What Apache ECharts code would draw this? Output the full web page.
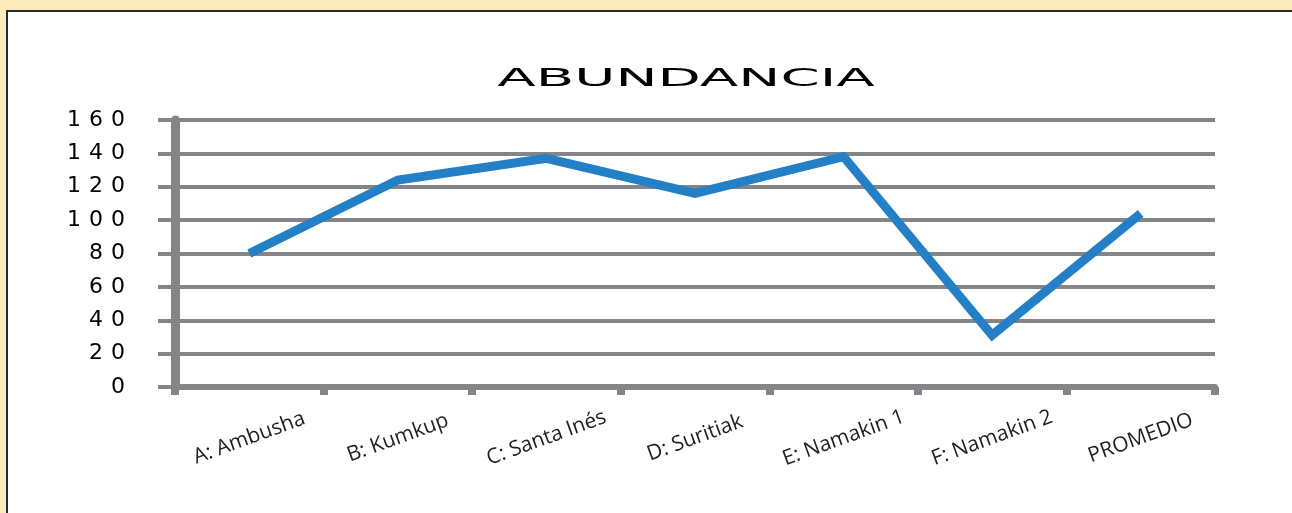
<!DOCTYPE html>
<html>
<head>
<meta charset="utf-8">
<script src="https://cdn.jsdelivr.net/npm/echarts@6/dist/echarts.min.js"></script>
<style>
  html, body { margin: 0; padding: 0; width: 1292px; height: 513px; overflow: hidden; background: #FBECBC; }
  #panel { position: absolute; left: 6px; top: 10px; right: 0; bottom: -4px; background: #ffffff;
           border-top: 2px solid #2b2b2b; border-left: 2px solid #2b2b2b; }
  #chart { position: absolute; left: 0; top: 0; width: 1292px; height: 513px; }
</style>
</head>
<body>
<div id="panel"></div>
<div id="chart"></div>
<script>
const chartTitle = 'ABUNDANCIA';
const categories = ['A: Ambusha', 'B: Kumkup', 'C: Santa Inés', 'D: Suritiak', 'E: Namakin 1', 'F: Namakin 2', 'PROMEDIO'];
const abundancia = [80, 124, 137, 116, 138, 31, 104];
const yTicks = { min: 0, max: 160, interval: 20 };

const gray = '#848589';
const chart = echarts.init(document.getElementById('chart'), null, { renderer: 'canvas' });

const option = {
  backgroundColor: 'transparent',
  animation: false,
  graphic: [{
    type: 'text',
    x: 686,
    y: 79,
    scaleX: 2.25,
    style: {
      text: chartTitle,
      font: '25px "DejaVu Sans"',
      fill: '#000000',
      align: 'center',
      verticalAlign: 'middle'
    }
  }],
  grid: { left: 175, right: 77, top: 120, bottom: 126 },
  xAxis: {
    type: 'category',
    data: categories,
    boundaryGap: true,
    axisLine: { show: true, lineStyle: { color: gray, width: 6 } },
    axisTick: { show: true, alignWithLabel: false, length: 8, lineStyle: { color: gray, width: 8 } },
    axisLabel: {
      interval: 0,
      rotate: 20,
      align: 'center',
      verticalAlign: 'middle',
      margin: 51,
      fontFamily: '"Open Sans"',
      fontSize: 21,
      color: '#1e1e1e'
    },
    splitLine: { show: false }
  },
  yAxis: {
    type: 'value',
    min: yTicks.min,
    max: yTicks.max,
    interval: yTicks.interval,
    axisLine: { show: true, lineStyle: { color: gray, width: 9 } },
    axisTick: { show: true, length: 17, lineStyle: { color: gray, width: 4 } },
    splitLine: { show: true, lineStyle: { color: gray, width: 4 } },
    axisLabel: {
      margin: 46,
      formatter: function (v) {
        return String(v).split('').map(function (d) { return '{d|' + d + '}'; }).join('');
      },
      rich: {
        d: { width: 22, align: 'center', fontFamily: '"DejaVu Sans"', fontSize: 22, color: '#000000' }
      }
    }
  },
  series: [{
    name: chartTitle,
    type: 'line',
    data: abundancia,
    showSymbol: false,
    symbol: 'none',
    lineStyle: { color: '#2380C6', width: 9, join: 'miter' },
    itemStyle: { color: '#2380C6' }
  }]
};
chart.setOption(option);
</script>
</body>
</html>
